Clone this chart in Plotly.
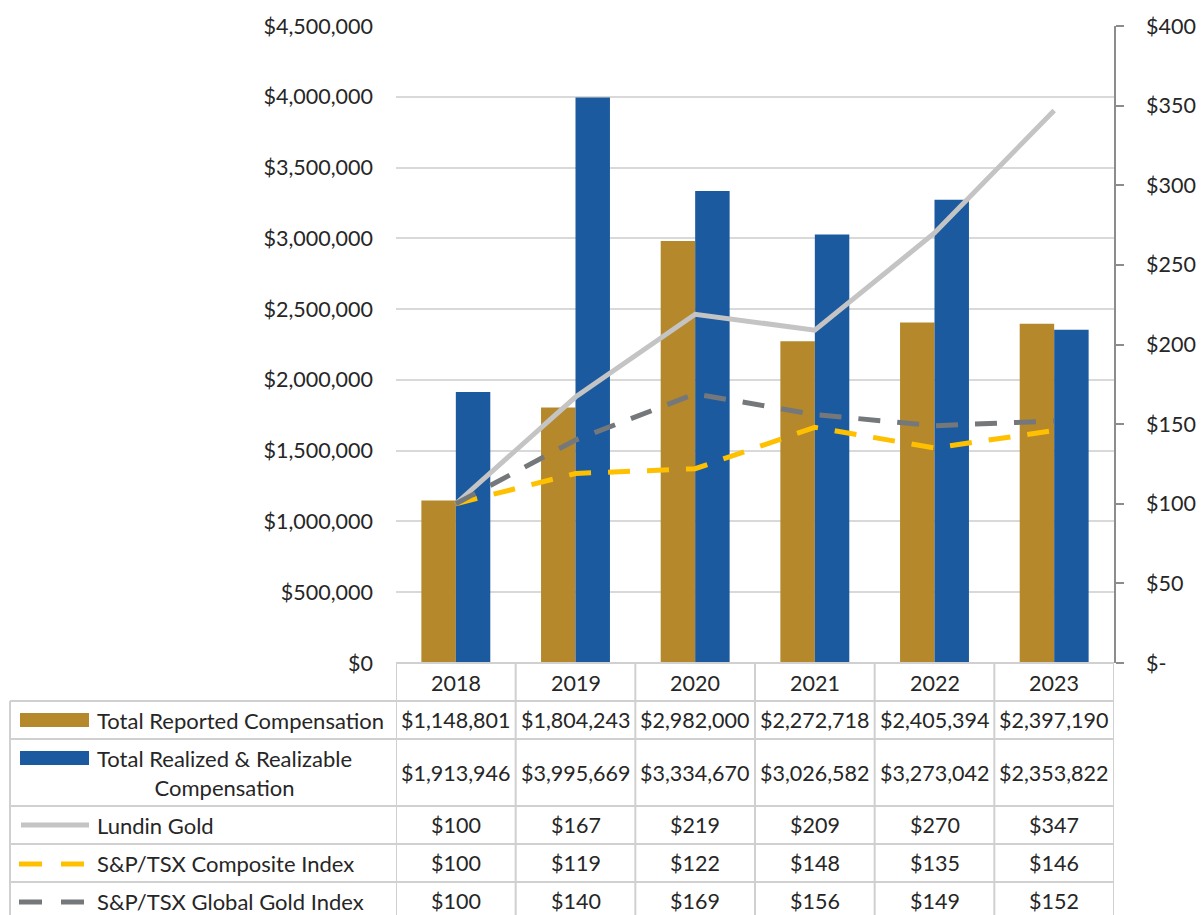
import plotly.graph_objects as go

years = ["2018", "2019", "2020", "2021", "2022", "2023"]
reported = [1148801, 1804243, 2982000, 2272718, 2405394, 2397190]
realized = [1913946, 3995669, 3334670, 3026582, 3273042, 2353822]
lundin = [100, 167, 219, 209, 270, 347]
composite = [100, 119, 122, 148, 135, 146]
global_gold = [100, 140, 169, 156, 149, 152]

left_ticks = [0, 500000, 1000000, 1500000, 2000000, 2500000, 3000000, 3500000, 4000000, 4500000]
left_labels = ["$0", "$500,000", "$1,000,000", "$1,500,000", "$2,000,000", "$2,500,000",
               "$3,000,000", "$3,500,000", "$4,000,000", "$4,500,000"]
right_ticks = [0, 50, 100, 150, 200, 250, 300, 350, 400]
right_labels = ["$-", "$50", "$100", "$150", "$200", "$250", "$300", "$350", "$400"]

GOLD = "#B5892B"
BLUE = "#1B5A9E"
LGREY = "#C4C4C4"
YEL = "#FFC000"
DGREY = "#75787B"
TXT = "#262626"
FONT = "Lato"
GRID = "#D9D9D9"
FS = 21.5

W, H = 1202, 915
L, R, T, B = 396, 1114, 26, 663

def py(p):
    return (B - p) / (B - T)

def px(p):
    return (p - L) / (R - L)

fig = go.Figure()
fig.add_trace(go.Bar(x=years, y=reported, name="Total Reported Compensation",
                     marker=dict(color=GOLD, line=dict(width=0))))
fig.add_trace(go.Bar(x=years, y=realized, name="Total Realized & Realizable Compensation",
                     marker=dict(color=BLUE, line=dict(width=0))))
fig.add_trace(go.Scatter(x=years, y=lundin, yaxis="y2", mode="lines", name="Lundin Gold",
                         line=dict(color=LGREY, width=5)))
fig.add_trace(go.Scatter(x=years, y=composite, yaxis="y2", mode="lines", name="S&P/TSX Composite Index",
                         line=dict(color=YEL, width=5, dash="22px,17px")))
fig.add_trace(go.Scatter(x=years, y=global_gold, yaxis="y2", mode="lines", name="S&P/TSX Global Gold Index",
                         line=dict(color=DGREY, width=5, dash="22px,17px")))

shapes = []
ann = []
LINE = dict(color="#D0D0D0", width=2)

# table horizontal lines
row_borders = [701, 739, 806, 844, 882]
shapes.append(dict(type="line", xref="paper", yref="paper", x0=0, x1=1, y0=py(663), y1=py(663), line=LINE))
for rb in row_borders:
    shapes.append(dict(type="line", xref="paper", yref="paper", x0=px(10), x1=1, y0=py(rb), y1=py(rb), line=LINE))
# vertical lines
shapes.append(dict(type="line", xref="paper", yref="paper", x0=px(10), x1=px(10), y0=py(701), y1=py(920), line=LINE))
for i in range(len(years) + 1):
    shapes.append(dict(type="line", xref="x", yref="paper", x0=i - 0.5, x1=i - 0.5, y0=py(663), y1=py(920), line=LINE))

# legend keys
shapes.append(dict(type="rect", xref="paper", yref="paper", x0=px(20), x1=px(89), y0=py(727), y1=py(713),
                   fillcolor=GOLD, line=dict(width=0)))
shapes.append(dict(type="rect", xref="paper", yref="paper", x0=px(20), x1=px(89), y0=py(765), y1=py(751),
                   fillcolor=BLUE, line=dict(width=0)))
shapes.append(dict(type="line", xref="paper", yref="paper", x0=px(21), x1=px(89), y0=py(825), y1=py(825),
                   line=dict(color=LGREY, width=5)))
shapes.append(dict(type="line", xref="paper", yref="paper", x0=px(19), x1=px(84), y0=py(864), y1=py(864),
                   line=dict(color=YEL, width=5, dash="23px,19px")))
shapes.append(dict(type="line", xref="paper", yref="paper", x0=px(19), x1=px(84), y0=py(902), y1=py(902),
                   line=dict(color=DGREY, width=5, dash="23px,19px")))

labels = ["Total Reported Compensation", "Total Realized & Realizable<br>Compensation",
          "Lundin Gold", "S&P/TSX Composite Index", "S&P/TSX Global Gold Index"]
row_y = [720, 772.5, 825, 863, 901]
for lab, yy in zip(labels, row_y):
    ann.append(dict(text=lab, xref="paper", yref="paper", x=px(95), y=py(yy), xanchor="left",
                    yanchor="middle", align="center", showarrow=False,
                    font=dict(family=FONT, size=22, color=TXT)))

def money(v):
    return "${:,}".format(v)

rows = [reported, realized, lundin, composite, global_gold]
for vals, yy in zip(rows, row_y):
    for i, v in enumerate(vals):
        ann.append(dict(text=money(v), xref="x", yref="paper", x=i, y=py(yy), xanchor="center",
                        yanchor="middle", showarrow=False, font=dict(family=FONT, size=FS, color=TXT)))
for i, yr in enumerate(years):
    ann.append(dict(text=yr, xref="x", yref="paper", x=i, y=py(683), xanchor="center",
                    yanchor="middle", showarrow=False, font=dict(family=FONT, size=FS, color=TXT)))

fig.update_layout(
    width=W, height=H,
    margin=dict(l=L, r=W - R, t=T, b=H - B, pad=0, autoexpand=False),
    paper_bgcolor="white", plot_bgcolor="white",
    barmode="group", bargap=0.424, bargroupgap=0,
    showlegend=False,
    font=dict(family=FONT, size=FS, color=TXT),
    xaxis=dict(type="category", showticklabels=False, showgrid=False, showline=False, ticks="",
               zeroline=False, range=[-0.5, 5.5], automargin=False),
    yaxis=dict(range=[0, 4500000], tickvals=left_ticks, ticktext=left_labels, showgrid=True,
               gridcolor=GRID, gridwidth=2, zeroline=False, showline=False, ticks="",
               ticklabelstandoff=22, tickfont=dict(family=FONT, size=FS, color=TXT), automargin=False),
    yaxis2=dict(range=[0, 400], overlaying="y", side="right", tickvals=right_ticks, ticktext=right_labels,
                showgrid=False, zeroline=False, showline=True, linecolor="#8C8C8C", linewidth=1.5,
                ticks="outside", ticklen=8, tickcolor="#8C8C8C", tickwidth=1.5,
                ticklabelstandoff=18, tickfont=dict(family=FONT, size=FS, color=TXT), automargin=False),
    shapes=shapes, annotations=ann,
)

fig.write_html("out.html", config={"displayModeBar": False},
               post_script="document.body.style.margin='0';document.body.style.overflow='hidden';")
